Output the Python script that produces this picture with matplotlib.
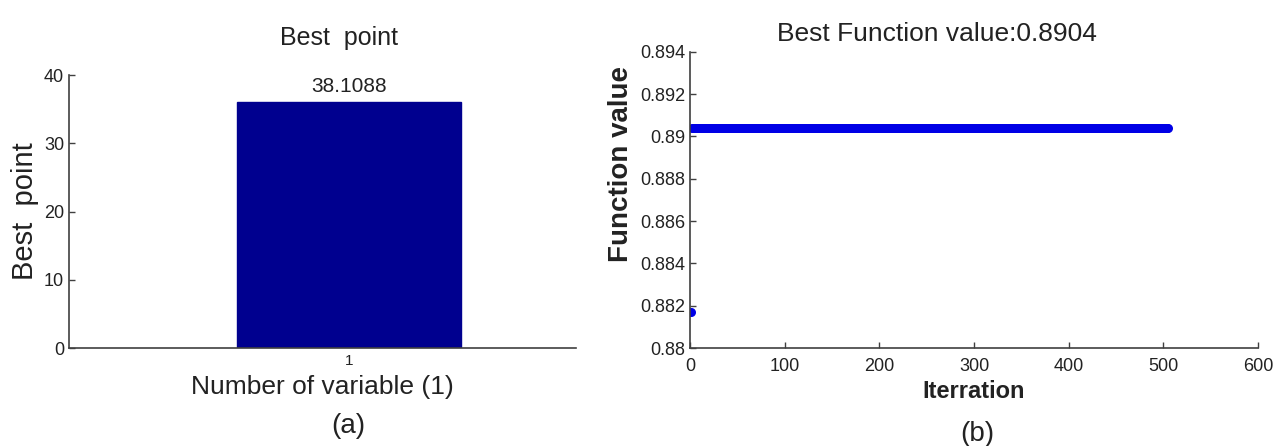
import numpy as np
import matplotlib
matplotlib.use('Agg')
import matplotlib.pyplot as plt
from matplotlib.ticker import FuncFormatter

plt.rcParams['font.family'] = ['Liberation Sans', 'DejaVu Sans']

# (a) best point
variables = [1]
best_point = [36.0]          # drawn bar height
best_point_label = '38.1088'  # value printed above the bar

# (b) convergence curve
iterations = list(range(1, 506))
best_curve = [0.8817] + [0.8904] * 504

axis_col = '#404040'
txt_col = '#222222'

fig = plt.figure(figsize=(12.74, 4.46), dpi=100)
ax1 = fig.add_axes([0.0542, 0.2197, 0.398, 0.612])
ax2 = fig.add_axes([0.5416, 0.2197, 0.4458, 0.6643])

for ax in (ax1, ax2):
    ax.spines['top'].set_visible(False)
    ax.spines['right'].set_visible(False)
    for s in ('left', 'bottom'):
        ax.spines[s].set_color(axis_col)
        ax.spines[s].set_linewidth(1.2)
    ax.tick_params(direction='in', length=4, width=1, color=axis_col,
                   labelcolor=txt_col, labelsize=13)

# left panel
ax1.bar(variables, best_point, width=0.8, color='#00008F', edgecolor='#00008F')
ax1.set_xlim(0, 1.81)
ax1.set_ylim(0, 40)
ax1.set_yticks([0, 10, 20, 30, 40])
ax1.set_xticks(variables)
ax1.tick_params(axis='x', length=0, labelsize=11, pad=4)
ax1.text(variables[0], best_point[0] + 1.0, best_point_label, ha='center', va='bottom',
         fontsize=15, color=txt_col)
ax1.set_title('Best  point', fontsize=18, x=0.533, pad=22, color=txt_col)
ax1.set_ylabel('Best  point', fontsize=21, labelpad=4, color=txt_col)
ax1.set_xlabel('Number of variable (1)', fontsize=19, labelpad=5, color=txt_col)

# right panel
ax2.plot(iterations, best_curve, 'o', color='#0000E6', ms=6.5, mew=0)
ax2.set_xlim(0, 600)
ax2.set_ylim(0.88, 0.894)
ax2.set_xticks([0, 100, 200, 300, 400, 500, 600])
ax2.set_yticks([0.88, 0.882, 0.884, 0.886, 0.888, 0.89, 0.892, 0.894])
ax2.yaxis.set_major_formatter(FuncFormatter(lambda v, p: '%g' % round(v, 3)))
ax2.tick_params(axis='x', pad=7)
ax2.set_title('Best Function value:0.8904', fontsize=19, x=0.435, pad=8, color=txt_col)
ax2.set_ylabel('Function value', fontsize=20, fontweight='bold', y=0.62, labelpad=4,
               color=txt_col)
ax2.set_xlabel('Iterration', fontsize=17, fontweight='bold', labelpad=4, color=txt_col)

fig.text(348 / 1274, 1 - 426 / 446, '(a)', ha='center', va='center', fontsize=20, color=txt_col)
fig.text(977 / 1274, 1 - 434 / 446, '(b)', ha='center', va='center', fontsize=20, color=txt_col)

fig.savefig('out.png', dpi=100)
